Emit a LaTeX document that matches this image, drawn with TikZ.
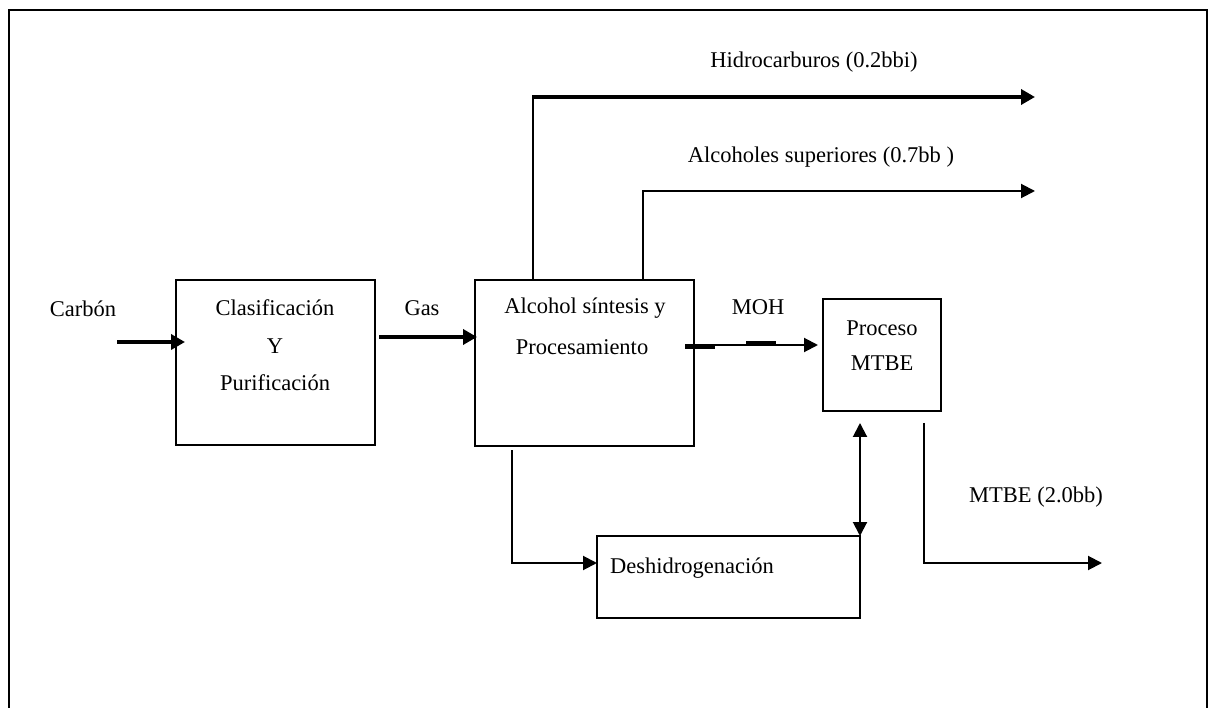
\documentclass[tikz,border=0pt]{standalone}
\usepackage{fontspec}
\setmainfont{Liberation Serif}
\usetikzlibrary{arrows.meta}
\tikzset{
  box/.style={draw, line width=2pt, minimum width=#1, inner sep=0pt, outer sep=0pt},
  lbl/.style={inner sep=0pt, font=\fontsize{22.5}{26}\selectfont},
  conn/.style={line width=2pt, -{Triangle[length=14pt,width=14pt]}},
  thickconn/.style={line width=4pt, -{Triangle[length=14pt,width=15pt]}},
  dbl/.style={line width=2pt, {Triangle[length=14pt,width=14pt]}-{Triangle[length=14pt,width=14pt]}},
  frame/.style={line width=2.5pt}
}
\begin{document}
\begin{tikzpicture}[x=1pt,y=-1pt]
\useasboundingbox (0,0) rectangle (1213,708);
% outer frame
\coordinate (fbl) at (9,710);
\coordinate (ftl) at (9,10);
\coordinate (ftr) at (1207,10);
\coordinate (fbr) at (1207,710);
\draw[frame] (fbl) -- (ftl) -- (ftr) -- (fbr);

% boxes
\node[box=199pt, minimum height=165pt] (b1) at (275.5,362.5) {};
\node[box=219pt, minimum height=166pt] (b2) at (584.5,363) {};
\node[box=118pt, minimum height=112pt] (b3) at (882,355) {};
\node[box=263pt, minimum height=82pt] (b4) at (728.5,577) {};

% box texts
\node[lbl] (t1a) at (275,308) {Clasificación};
\node[lbl] (t1b) at (275,346) {Y};
\node[lbl] (t1c) at (275,383) {Purificación};
\node[lbl] (t2a) at (585,308) {Alcohol síntesis y};
\node[lbl] (t2b) at (582,347) {Procesamiento};
\node[lbl] (t3a) at (882,328) {Proceso};
\node[lbl] (t3b) at (882,363) {MTBE};
\node[lbl] (t4) at (692,568) {Deshidrogenación};

% labels
\node[lbl] (lcarbon) at (83,309) {Carbón};
\node[lbl] (lgas) at (422,308) {Gas};
\node[lbl] (lmoh) at (758,307) {MOH};
\node[lbl] (lhid) at (814,62) {Hidrocarburos (0.2bbi)};
\node[lbl] (lalc) at (821,157) {Alcoholes superiores (0.7bb )};
\node[lbl] (lmtbe) at (1036,497) {MTBE (2.0bb)};

% connectors
\coordinate (cin) at (117,342);
\draw[thickconn, shorten >=-9pt] (cin) -- (b1.west |- cin);
\coordinate (gasy) at (0,337);
\draw[thickconn, shorten <=4pt, shorten >=-2pt] (b1.east |- gasy) -- (b2.west |- gasy);
\coordinate (mohy) at (0,345);
\draw[conn, shorten <=-9pt, shorten >=5pt] (b2.east |- mohy) -- (b3.west |- mohy);
\coordinate (mohs1) at (685,347);
\coordinate (mohe1) at (715,347);
\coordinate (mohs2) at (746,343);
\coordinate (mohe2) at (776,343);
\draw[line width=4pt] (mohs1) -- (mohe1);
\draw[line width=4pt] (mohs2) -- (mohe2);

\coordinate (hx) at (533,0);
\coordinate (hturn) at (533,97);
\coordinate (hend) at (1035,97);
\draw[line width=2pt] (b2.north -| hx) -- (hturn);
\draw[thickconn, shorten <=-1pt] (hturn) -- (hend);

\coordinate (ax) at (643,0);
\coordinate (aturn) at (643,191);
\coordinate (aend) at (1035,191);
\draw[conn] (b2.north -| ax) -- (aturn) -- (aend);

\coordinate (dstart) at (512,450);
\coordinate (dturn) at (512,563);
\draw[conn] (dstart) -- (dturn) -- (b4.west |- dturn);

\coordinate (dtop) at (860,423);
\draw[dbl] (dtop) -- (b4.north east);

\coordinate (mstart) at (924,423);
\coordinate (mturn) at (924,563);
\coordinate (mend) at (1102,563);
\draw[conn] (mstart) -- (mturn) -- (mend);
\end{tikzpicture}
\end{document}
